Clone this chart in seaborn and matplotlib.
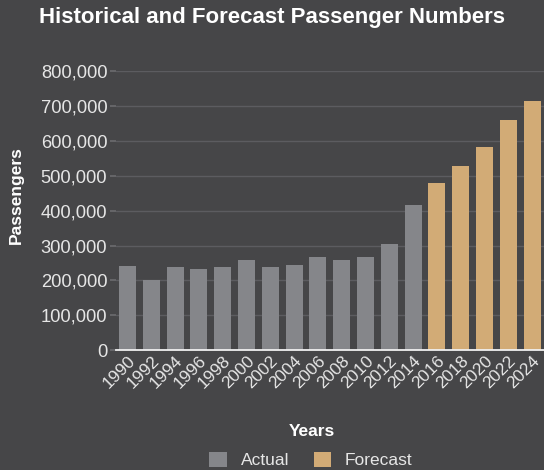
import matplotlib
matplotlib.use("Agg")
import matplotlib.pyplot as plt
import seaborn as sns
import pandas as pd
from matplotlib.ticker import FuncFormatter

years = ["1990", "1992", "1994", "1996", "1998", "2000", "2002", "2004", "2006",
         "2008", "2010", "2012", "2014", "2016", "2018", "2020", "2022", "2024"]
passengers = [242000, 201000, 239000, 233000, 239000, 259000, 239000, 245000, 268000,
              259000, 268000, 305000, 417000, 480000, 528000, 582000, 660000, 715000]
types = ["Actual"] * 13 + ["Forecast"] * 5
yticks = [0, 100000, 200000, 300000, 400000, 500000, 600000, 700000, 800000]

df = pd.DataFrame({"Year": years, "Passengers": passengers, "Type": types})

BG = "#464648"
TXT = "#e6e6e6"
sns.set_theme(style="dark")
plt.rcParams["font.family"] = ["Liberation Sans", "DejaVu Sans"]

fig = plt.figure(figsize=(5.44, 4.70), dpi=100, facecolor=BG)
ax = fig.add_axes([0.2125, 0.2547, 0.7875, 0.5940])
ax.set_facecolor(BG)

sns.barplot(data=df, x="Year", y="Passengers", hue="Type", dodge=False, width=0.72,
            palette={"Actual": "#85868a", "Forecast": "#d2ab76"}, saturation=1,
            ax=ax, legend=True, edgecolor="none", linewidth=0)

ax.set_xlim(-0.5, len(years) - 0.5)
ax.set_ylim(0, 800000)
ax.set_yticks(yticks)
ax.yaxis.set_major_formatter(FuncFormatter(lambda v, p: f"{int(v):,}"))
ax.grid(axis="y", color="#5c5c60", linewidth=1)
ax.grid(axis="x", visible=False)
ax.set_axisbelow(True)
for s in ["top", "right", "left"]:
    ax.spines[s].set_visible(False)
ax.spines["bottom"].set_color("#f0f0f0")
ax.spines["bottom"].set_linewidth(1.3)

ax.tick_params(axis="y", colors=TXT, labelsize=13.2, length=4, color="#6a6a6e", pad=2, left=True)
ax.tick_params(axis="x", colors=TXT, labelsize=12.5, length=0, pad=2)
plt.setp(ax.get_xticklabels(), rotation=45, ha="right", rotation_mode="anchor")

ax.set_xlabel("Years", color="white", fontsize=12.5, fontweight="bold")
ax.xaxis.set_label_coords(0.458, -0.264)
ax.set_ylabel("Passengers", color="white", fontsize=12.5, fontweight="bold")
ax.yaxis.set_label_coords(-0.215, 0.557)

fig.suptitle("Historical and Forecast Passenger Numbers", color="white", fontsize=16,
             fontweight="bold", x=0.5, y=0.985, va="top")

leg = ax.legend(loc="center", bbox_to_anchor=(0.456, -0.393), ncol=2, frameon=False,
                fontsize=12.5, handlelength=1.0, handleheight=1.0, columnspacing=1.4,
                handletextpad=0.8, title=None, borderaxespad=0, borderpad=0)
for t in leg.get_texts():
    t.set_color(TXT)

fig.savefig("out.png", dpi=100, facecolor=BG)
